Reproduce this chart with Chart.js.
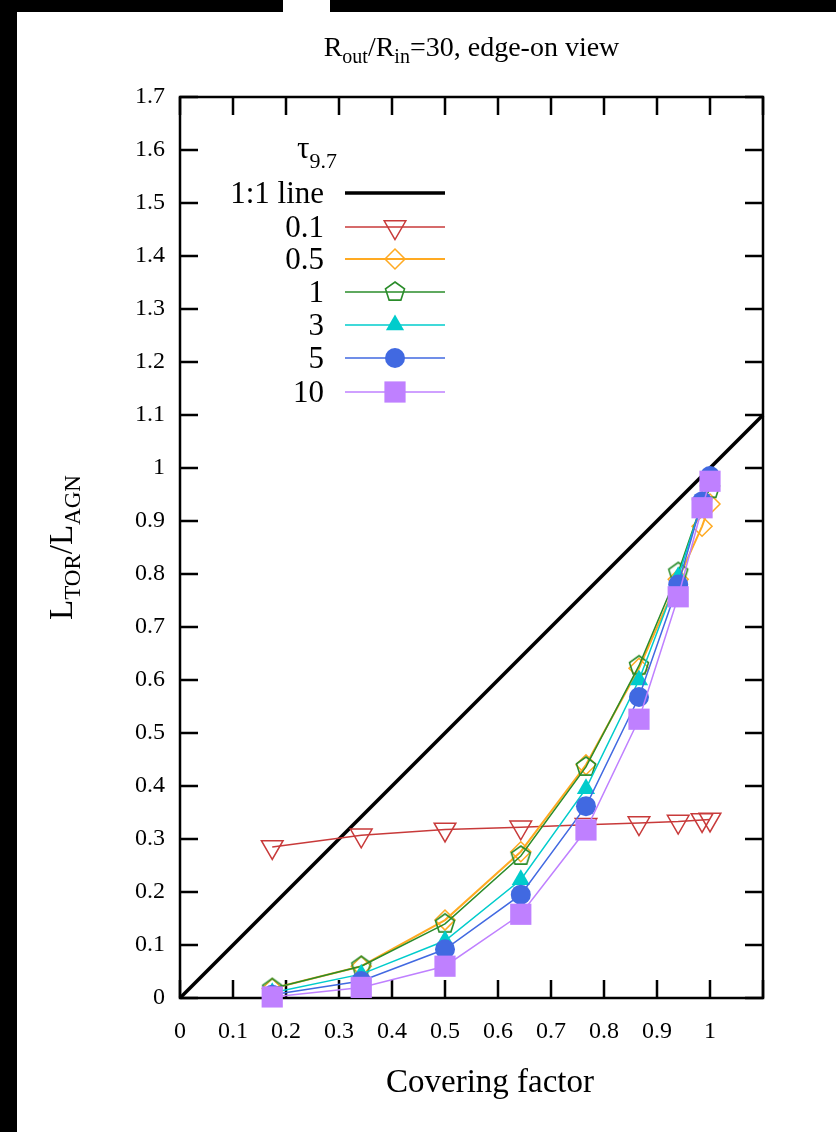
<!DOCTYPE html>
<html>
<head>
<meta charset="utf-8">
<script src="https://cdn.jsdelivr.net/npm/chart.js@4.4.0/dist/chart.umd.min.js"></script>
<style>
html, body { margin: 0; padding: 0; background: #fff; width: 836px; height: 1132px; overflow: hidden; }
#c { position: absolute; left: 0; top: 0; }
.edge { position: absolute; background: #000; }
</style>
</head>
<body>
<canvas id="c" width="836" height="1132"></canvas>
<div class="edge" style="left:0;top:0;width:17px;height:1132px"></div>
<div class="edge" style="left:0;top:0;width:283px;height:12px"></div>
<div class="edge" style="left:330px;top:0;width:506px;height:12px"></div>
<script>
// covering factor (x) for every model
const coverFactor = [0.174, 0.342, 0.500, 0.643, 0.766, 0.866, 0.940, 0.985, 1.000];

// L_TOR / L_AGN for each optical depth tau_9.7
const tau01  = [0.285, 0.307, 0.318, 0.322, 0.327, 0.330, 0.333, 0.336, 0.337];
const tau05  = [0.018, 0.060, 0.147, 0.276, 0.440, 0.622, 0.790, 0.890, 0.932];
const tau1   = [0.018, 0.060, 0.140, 0.268, 0.436, 0.627, 0.803, 0.935, 0.960];
const tau3   = [0.010, 0.045, 0.108, 0.223, 0.395, 0.600, 0.795, 0.935, 0.975];
const tau5   = [0.006, 0.032, 0.092, 0.195, 0.362, 0.568, 0.780, 0.937, 0.985];
const tau10  = [0.002, 0.020, 0.060, 0.158, 0.317, 0.526, 0.757, 0.925, 0.975];

// the 1:1 line ends
const oneToOne = [0, 1.1];

const tauLabels = ['0.1', '0.5', '1', '3', '5', '10'];

const SERIF = '"Liberation Serif", "Times New Roman", serif';

function pentagon(color, r, lw) {
    const c = document.createElement('canvas');
    const s = Math.ceil(2 * r + 2 * lw + 2);
    c.width = s; c.height = s;
    const g = c.getContext('2d');
    g.strokeStyle = color;
    g.lineWidth = lw;
    g.beginPath();
    for (let i = 0; i < 5; i++) {
        const a = -Math.PI / 2 + i * 2 * Math.PI / 5;
        const px = s / 2 + r * Math.cos(a), py = s / 2 + r * Math.sin(a);
        if (i) g.lineTo(px, py); else g.moveTo(px, py);
    }
    g.closePath();
    g.stroke();
    return c;
}

const series = [
    { values: tau01, color: '#c83a3a', style: 'triangle', rot: 180, r: 12.5, fill: false, width: 1.5 },
    { values: tau05, color: '#ffaa22', style: 'rectRot', rot: 0, r: 10, fill: false, width: 2 },
    { values: tau1,  color: '#2a8c2a', style: pentagon('#2a8c2a', 10, 1.6), rot: 0, r: 10, fill: false, width: 1.5 },
    { values: tau3,  color: '#00cccc', style: 'triangle', rot: 0, r: 10.5, fill: true, width: 1.5 },
    { values: tau5,  color: '#4169e1', style: 'circle', rot: 0, r: 10, fill: true, width: 1.5 },
    { values: tau10, color: '#bf80ff', style: 'rect', rot: 0, r: 15, fill: true, width: 1.5 }
];

const pts = ys => coverFactor.map((x, i) => ({ x: x, y: ys[i] }));

const datasets = [{
    data: oneToOne.map(v => ({ x: v, y: v })),
    showLine: true, borderColor: '#000', borderWidth: 3.5, pointRadius: 0, order: 7, clip: false
}].concat(series.map((s, i) => ({
    data: pts(s.values),
    showLine: true,
    borderColor: s.color,
    borderWidth: s.width,
    pointStyle: s.style,
    pointRadius: s.r,
    pointRotation: s.rot,
    pointBorderColor: s.color,
    pointBackgroundColor: s.fill ? s.color : 'rgba(0,0,0,0)',
    pointBorderWidth: s.fill ? 0 : 1.5,
    order: 6 - i,
    clip: false
})));

const fmt = v => String(Math.round(v * 10) / 10);

// text made of pieces, some of them subscripts
function rich(ctx, parts, x, y) {
    let w = 0;
    parts.forEach(p => { ctx.font = p.size + 'px ' + SERIF; w += ctx.measureText(p.t).width; });
    let cx = x - w / 2;
    ctx.textAlign = 'left';
    ctx.textBaseline = 'alphabetic';
    parts.forEach(p => {
        ctx.font = p.size + 'px ' + SERIF;
        ctx.fillText(p.t, cx, y + (p.dy || 0));
        cx += ctx.measureText(p.t).width;
    });
}

function marker(ctx, s, x, y) {
    ctx.fillStyle = s.fill ? s.color : 'rgba(0,0,0,0)';
    ctx.strokeStyle = s.color;
    ctx.lineWidth = 1.5;
    Chart.helpers.drawPoint(ctx, { pointStyle: s.style, rotation: s.rot, radius: s.r, borderWidth: s.fill ? 0 : 1.5 }, x, y);
}

const framePlugin = {
    id: 'frame',
    beforeDatasetsDraw(chart) {
        const { ctx, chartArea: a, scales: { x, y } } = chart;
        const T = 18;
        ctx.save();
        ctx.strokeStyle = '#000';
        ctx.lineWidth = 2.5;
        ctx.beginPath();
        x.ticks.forEach(t => {
            const px = x.getPixelForValue(t.value);
            ctx.moveTo(px, a.bottom); ctx.lineTo(px, a.bottom - T);
            ctx.moveTo(px, a.top); ctx.lineTo(px, a.top + T);
        });
        y.ticks.forEach(t => {
            const py = y.getPixelForValue(t.value);
            ctx.moveTo(a.left, py); ctx.lineTo(a.left + T, py);
            ctx.moveTo(a.right, py); ctx.lineTo(a.right - T, py);
        });
        ctx.stroke();
        ctx.strokeRect(a.left, a.top, a.right - a.left, a.bottom - a.top);
        ctx.restore();
    },
    afterDraw(chart) {
        const { ctx, chartArea: a } = chart;
        ctx.save();
        ctx.fillStyle = '#000';

        rich(ctx, [
            { t: 'R', size: 28 }, { t: 'out', size: 20, dy: 7 },
            { t: '/R', size: 28 }, { t: 'in', size: 20, dy: 7 },
            { t: '=30, edge-on view', size: 28 }
        ], (a.left + a.right) / 2, 56);

        ctx.fillStyle = '#000';
        rich(ctx, [{ t: 'Covering factor', size: 33 }], 490, 1092);

        ctx.save();
        ctx.translate(72, (a.top + a.bottom) / 2);
        ctx.rotate(-Math.PI / 2);
        rich(ctx, [
            { t: 'L', size: 33 }, { t: 'TOR', size: 23, dy: 8 },
            { t: '/L', size: 33 }, { t: 'AGN', size: 23, dy: 8 }
        ], 0, 0);
        ctx.restore();

        // key
        const tx = 324, x0 = 345, x1 = 445, xm = 395;
        ctx.textAlign = 'right';
        ctx.textBaseline = 'alphabetic';
        ctx.font = '22px ' + SERIF;
        ctx.fillText('9.7', 337, 168);
        const w97 = ctx.measureText('9.7').width;
        ctx.font = '31px ' + SERIF;
        ctx.fillText('τ', 337 - w97, 158);

        const rows = [193, 227, 259, 292, 325, 358, 392];
        ctx.font = '31px ' + SERIF;
        ctx.fillText('1:1 line', tx, rows[0] + 10);
        ctx.strokeStyle = '#000';
        ctx.lineWidth = 3.5;
        ctx.beginPath(); ctx.moveTo(x0, rows[0]); ctx.lineTo(x1, rows[0]); ctx.stroke();

        series.forEach((s, i) => {
            const ry = rows[i + 1];
            ctx.fillStyle = '#000';
            ctx.textAlign = 'right';
            ctx.font = '31px ' + SERIF;
            ctx.fillText(tauLabels[i], tx, ry + 10);
            ctx.strokeStyle = s.color;
            ctx.lineWidth = s.width;
            ctx.beginPath(); ctx.moveTo(x0, ry); ctx.lineTo(x1, ry); ctx.stroke();
            marker(ctx, s, xm, ry);
        });
        ctx.restore();
    }
};

new Chart(document.getElementById('c'), {
    type: 'scatter',
    data: { datasets: datasets },
    options: {
        responsive: false,
        animation: false,
        events: [],
        layout: { padding: { top: 97, right: 73, left: 0, bottom: 0 } },
        plugins: { legend: { display: false }, tooltip: { enabled: false } },
        scales: {
            x: {
                type: 'linear', min: 0, max: 1.1,
                afterFit(s) { s.height = 134; },
                grid: { display: false, drawTicks: false },
                border: { display: false },
                ticks: {
                    stepSize: 0.1, autoSkip: false, maxRotation: 0, padding: 19,
                    color: '#000', font: { family: SERIF, size: 24 },
                    callback: v => v > 1.05 ? '' : fmt(v)
                }
            },
            y: {
                type: 'linear', min: 0, max: 1.7,
                afterFit(s) { s.width = 180; },
                grid: { display: false, drawTicks: false },
                border: { display: false },
                ticks: {
                    stepSize: 0.1, autoSkip: false, padding: 15,
                    color: '#000', font: { family: SERIF, size: 24 },
                    callback: v => fmt(v)
                }
            }
        }
    },
    plugins: [framePlugin]
});
</script>
</body>
</html>
